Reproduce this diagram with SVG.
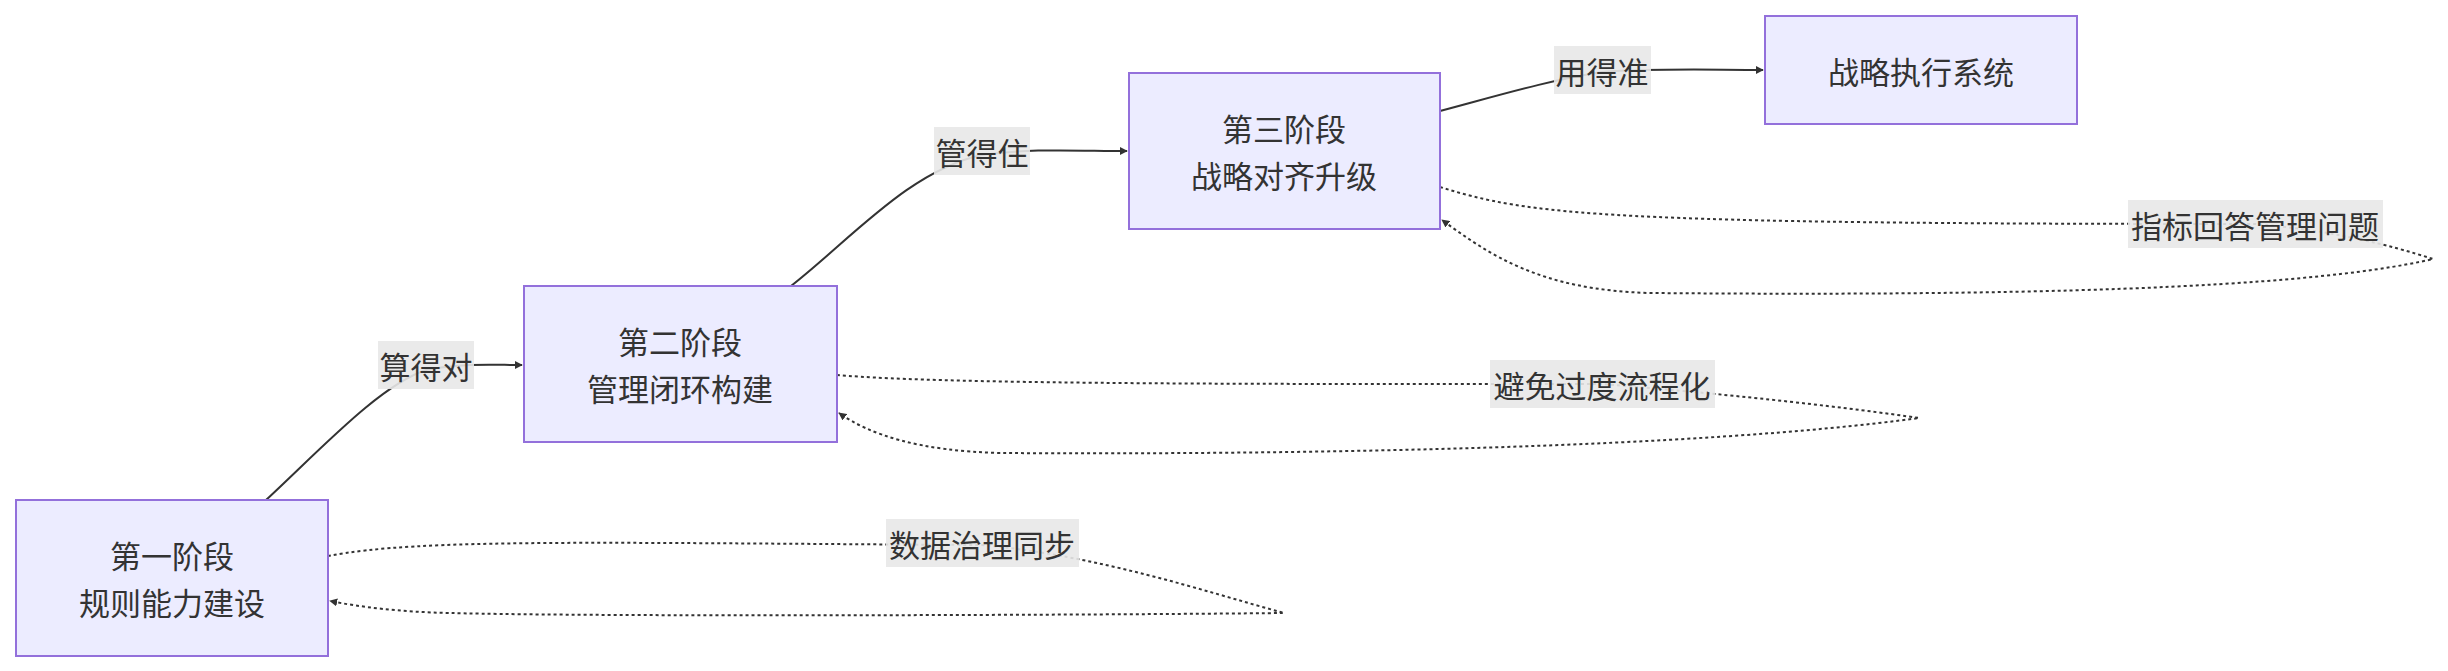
<svg xmlns="http://www.w3.org/2000/svg" width="2448" height="671" viewBox="0 0 2448 671">
<style>
.node rect{fill:#ECECFF;stroke:#9370DB;stroke-width:2}
text{font-family:"Noto Sans CJK SC","Liberation Sans",sans-serif;font-size:31px;fill:#333;text-anchor:middle;dominant-baseline:central}
.e{fill:none;stroke:#333;stroke-width:2}
.d{stroke-dasharray:3 3}
.lb{fill:#e8e8e8;opacity:0.9}
</style>
<defs><marker id="a" viewBox="0 0 10 10" refX="9" refY="5" markerWidth="8" markerHeight="8" orient="auto-start-reverse" markerUnits="userSpaceOnUse" ><path d="M0,0L10,5L0,10z" fill="#333"/></marker></defs>
<g id="edges">
<path class="e" d="M266,500 C320,450 380,385 426,370 C460,363 490,365 522,365" marker-end="url(#a)"/>
<path class="e" d="M791,286 C850,240 910,170 982,155 C1030,148 1080,151 1127,151" marker-end="url(#a)"/>
<path class="e" d="M1440,111 C1500,95 1550,80 1602,72 C1660,68 1710,70 1763,70" marker-end="url(#a)"/>
<path class="e d" d="M328,556 C420,538 600,543 982,545 C1100,556 1200,590 1284,613 C1100,615 600,617 450,613 C400,612 360,607 330,601" marker-end="url(#a)"/>
<path class="e d" d="M837,375 C950,385 1300,384 1602,384 C1750,396 1850,408 1919,418 C1700,448 1300,455 1000,453 C920,451 870,435 839,413" marker-end="url(#a)"/>
<path class="e d" d="M1440,187 C1530,215 1600,224 2255,224 C2330,230 2390,245 2433,259 C2300,290 2000,296 1650,293 C1540,290 1490,255 1442,220" marker-end="url(#a)"/>
<rect class="lb" x="378" y="341" width="96" height="48"/><text x="426" y="365">算得对</text>
<rect class="lb" x="934" y="127" width="96" height="48"/><text x="982" y="151">管得住</text>
<rect class="lb" x="1554" y="46" width="97" height="48"/><text x="1602" y="70">用得准</text>
<rect class="lb" x="886" y="519" width="193" height="48"/><text x="982" y="543">数据治理同步</text>
<rect class="lb" x="1490" y="360" width="225" height="48"/><text x="1602" y="384">避免过度流程化</text>
<rect class="lb" x="2128" y="200" width="255" height="48"/><text x="2255" y="224">指标回答管理问题</text>
</g>
<g id="n1" class="node"><rect x="16" y="500" width="312" height="156"/><text x="172" y="554">第一阶段</text><text x="172" y="601">规则能力建设</text></g>
<g id="n2" class="node"><rect x="524" y="286" width="313" height="156"/><text x="680" y="340">第二阶段</text><text x="680" y="387">管理闭环构建</text></g>
<g id="n3" class="node"><rect x="1129" y="73" width="311" height="156"/><text x="1284" y="127">第三阶段</text><text x="1284" y="174">战略对齐升级</text></g>
<g id="n4" class="node"><rect x="1765" y="16" width="312" height="108"/><text x="1921" y="70">战略执行系统</text></g>
</svg>
